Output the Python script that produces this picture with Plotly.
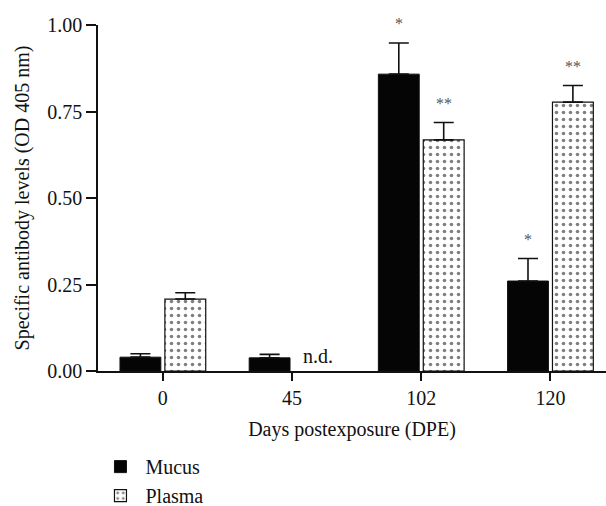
import plotly.graph_objects as go

categories = ["0", "45", "102", "120"]
mucus = [0.040, 0.038, 0.858, 0.260]
mucus_err = [0.010, 0.010, 0.090, 0.065]
plasma = [0.208, None, 0.668, 0.777]
plasma_err = [0.018, 0, 0.050, 0.048]
mucus_sig = ["", "", "*", "*"]
plasma_sig = ["", "", "**", "**"]
nd_label = "n.d."

FONT = "'Liberation Serif', 'Times New Roman', 'DejaVu Serif', serif"
INK = "#111111"

fig = go.Figure()
fig.add_trace(go.Bar(
    name="Mucus", x=categories, y=mucus,
    marker=dict(color="#050505", line=dict(color=INK, width=1)),
    error_y=dict(type="data", array=mucus_err, arrayminus=[0]*4, symmetric=False,
                 color=INK, thickness=1.6, width=10),
))
fig.add_trace(go.Bar(
    name="Plasma", x=categories, y=plasma,
    marker=dict(color="white", line=dict(color=INK, width=1.2),
                pattern=dict(shape=".", size=7, solidity=0.2, fgcolor="black",
                             bgcolor="white", fillmode="overlay")),
    error_y=dict(type="data", array=plasma_err, arrayminus=[0]*4, symmetric=False,
                 color=INK, thickness=1.6, width=10),
))

SHIFT = 22.5
STAR = dict(family=FONT, size=16, color="#555555")
for i, c in enumerate(categories):
    if mucus_sig[i]:
        fig.add_annotation(x=i, y=mucus[i] + mucus_err[i], xref="x", yref="y",
                           text=mucus_sig[i], showarrow=False, xshift=-SHIFT,
                           yanchor="bottom", yshift=9, font=STAR)
    if plasma_sig[i] and plasma[i] is not None:
        fig.add_annotation(x=i, y=plasma[i] + plasma_err[i], xref="x", yref="y",
                           text=plasma_sig[i], showarrow=False, xshift=SHIFT,
                           yanchor="bottom", yshift=9, font=STAR)
    if plasma[i] is None:
        fig.add_annotation(x=i, y=0, xref="x", yref="y", text=nd_label,
                           showarrow=False, xshift=SHIFT + 3, yanchor="bottom",
                           yshift=2, font=dict(family=FONT, size=20, color=INK))

fig.update_layout(
    width=606, height=506,
    margin=dict(l=98, r=0, t=25, b=135, autoexpand=False),
    paper_bgcolor="white", plot_bgcolor="white",
    barmode="group", bargap=0.305, bargroupgap=0.09,
    font=dict(family=FONT, size=20, color=INK),
    showlegend=True,
    legend=dict(x=-0.005, y=-0.22, xanchor="left", yanchor="top",
                orientation="v", font=dict(family=FONT, size=20, color=INK),
                bgcolor="rgba(0,0,0,0)", tracegroupgap=0, itemwidth=40),
    xaxis=dict(
        type="category", range=[-0.502, 3.43],
        showline=True, linecolor=INK, linewidth=1.5,
        ticks="outside", ticklen=8, tickwidth=1.5, tickcolor=INK,
        showgrid=False, zeroline=False,
        title=dict(text="Days postexposure (DPE)", standoff=14,
                   font=dict(family=FONT, size=20, color=INK)),
        automargin=False,
    ),
    yaxis=dict(
        range=[0, 1.0], tickvals=[0, 0.25, 0.5, 0.75, 1.0],
        ticktext=["0.00", "0.25", "0.50", "0.75", "1.00"],
        showline=True, linecolor=INK, linewidth=1.5,
        ticks="outside", ticklen=10, tickwidth=1.5, tickcolor=INK,
        showgrid=False, zeroline=False,
        title=dict(text="Specific antibody levels (OD 405 nm)", standoff=12,
                   font=dict(family=FONT, size=20, color=INK)),
        automargin=False,
    ),
)

fig.write_html("out.html")
